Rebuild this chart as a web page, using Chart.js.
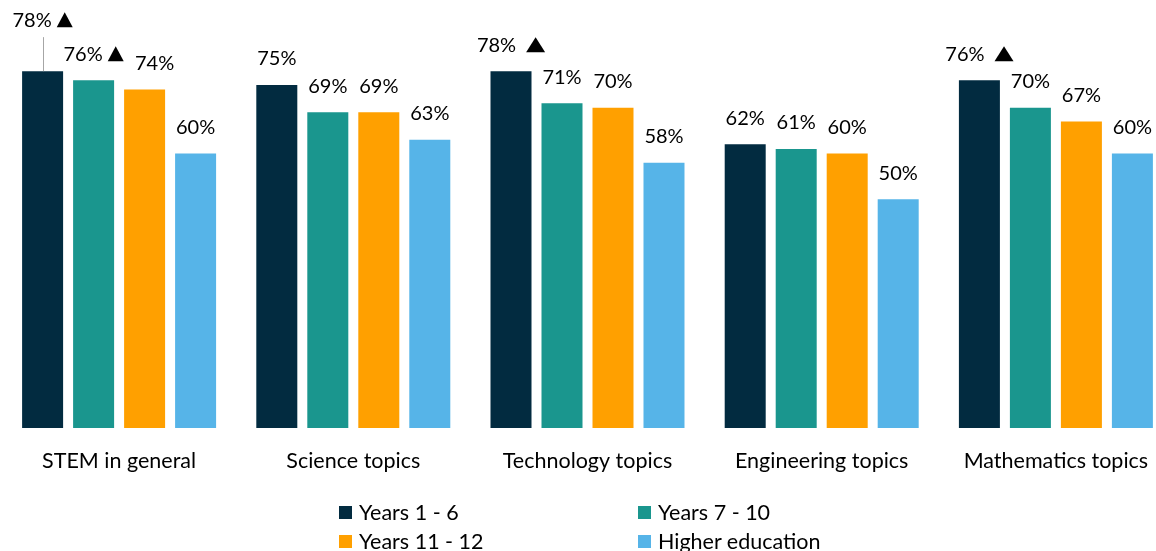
<!DOCTYPE html>
<html>
<head>
<meta charset="utf-8">
<script src="https://cdn.jsdelivr.net/npm/chart.js@4/dist/chart.umd.min.js"></script>
<style>
  body { margin: 0; background: #fff; overflow: hidden; font-family: Lato, sans-serif; }
  #wrap { position: relative; width: 1173px; height: 551px; }
  #legend { position: absolute; left: 0; top: 0; }
  .item { position: absolute; display: flex; align-items: center; font-size: 21.5px; color: #000; line-height: 24px; white-space: nowrap; }
  .box { width: 13px; height: 13px; margin-right: 7px; }
</style>
</head>
<body>
<div id="wrap">
  <canvas id="chart" width="1173" height="551"></canvas>
  <div id="legend"></div>
</div>
<script>
// data
var categories = ['STEM in general', 'Science topics', 'Technology topics', 'Engineering topics', 'Mathematics topics'];
var seriesNames = ['Years 1 - 6', 'Years 7 - 10', 'Years 11 - 12', 'Higher education'];
var years1to6 = [78, 75, 78, 62, 76];
var years7to10 = [76, 69, 71, 61, 70];
var years11to12 = [74, 69, 70, 60, 67];
var higherEd = [60, 63, 58, 50, 60];
// significance markers (the little triangles)
var sig1to6 = [true, false, true, false, true];
var sig7to10 = [true, false, false, false, false];
var sig11to12 = [false, false, false, false, false];
var sigHigher = [false, false, false, false, false];

var colors = ['#022b40', '#1a968e', '#ffa000', '#56b4e8'];
var allValues = [years1to6, years7to10, years11to12, higherEd];
var allSig = [sig1to6, sig7to10, sig11to12, sigHigher];

// label drawing: value + optional triangle, above each bar
var valueLabels = {
  id: 'valueLabels',
  afterDatasetsDraw: function(chart) {
    var ctx = chart.ctx;
    ctx.save();
    ctx.font = '20px Lato';
    ctx.fillStyle = '#000';
    ctx.textBaseline = 'middle';
    chart.data.datasets.forEach(function(ds, i) {
      var meta = chart.getDatasetMeta(i);
      meta.data.forEach(function(bar, j) {
        var txt = ds.data[j] + '%';
        var y = bar.y - 26;
        var x = bar.x;
        // first bar label is lifted with a leader line
        if (i === 0 && j === 0) {
          y = bar.y - 51;
          ctx.strokeStyle = '#a6a6a6';
          ctx.lineWidth = 1;
          ctx.beginPath();
          ctx.moveTo(Math.round(bar.x) + 0.5, bar.y);
          ctx.lineTo(Math.round(bar.x) + 0.5, y + 17);
          ctx.stroke();
        }
        // nudged to clear the marker next to it
        if (i === 2 && j === 0) x += 10;
        var w = ctx.measureText(txt).width;
        if (allSig[i][j]) {
          var gap = j === 0 ? 5 : 10;
          var tw = j === 0 ? 16 : 19;
          var total = w + gap + tw;
          var x0 = x - total / 2;
          ctx.textAlign = 'left';
          ctx.fillText(txt, x0, y);
          var tx = x0 + w + gap;
          ctx.beginPath();
          ctx.moveTo(tx, y + 7);
          ctx.lineTo(tx + tw, y + 7);
          ctx.lineTo(tx + tw / 2, y - 8);
          ctx.closePath();
          ctx.fill();
        } else {
          ctx.textAlign = 'center';
          ctx.fillText(txt, x, y);
        }
      });
    });
    ctx.restore();
  }
};

var datasets = seriesNames.map(function(name, i) {
  return {
    label: name,
    data: allValues[i],
    backgroundColor: colors[i],
    borderWidth: 0,
    categoryPercentage: 0.871,
    barPercentage: 0.804
  };
});

new Chart(document.getElementById('chart'), {
  type: 'bar',
  data: { labels: categories, datasets: datasets },
  options: {
    responsive: false,
    animation: false,
    devicePixelRatio: 1,
    layout: { padding: { left: 2, right: 0, top: 62, bottom: 0 } },
    plugins: { legend: { display: false }, tooltip: { enabled: false } },
    scales: {
      x: {
        grid: { display: false, drawTicks: false },
        border: { display: false },
        ticks: { color: '#000', font: { family: 'Lato', size: 21.5 }, padding: 20, maxRotation: 0 },
        afterFit: function(scale) { scale.height = 123; }
      },
      y: {
        display: false,
        min: 0,
        max: 80
      }
    }
  },
  plugins: [valueLabels]
});

// legend, two columns
var legendPos = [[339, 500], [638, 500], [339, 529], [638, 529]];
var legend = document.getElementById('legend');
seriesNames.forEach(function(name, i) {
  var d = document.createElement('div');
  d.className = 'item';
  d.style.left = legendPos[i][0] + 'px';
  d.style.top = legendPos[i][1] + 'px';
  d.innerHTML = '<span class="box" style="background:' + colors[i] + '"></span>' + name;
  legend.appendChild(d);
});
</script>
</body>
</html>
